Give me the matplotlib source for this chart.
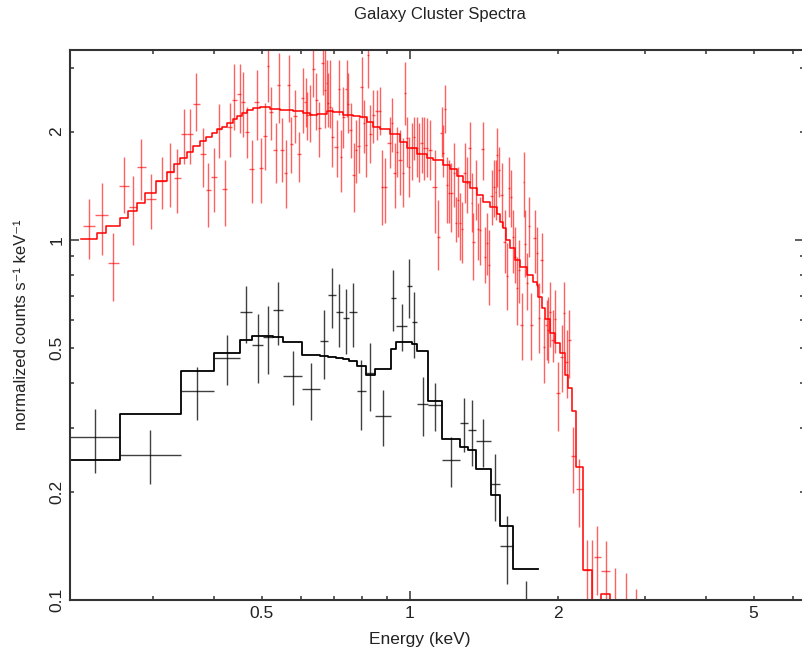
import numpy as np
import matplotlib
matplotlib.use("Agg")
import matplotlib.pyplot as plt
from matplotlib.ticker import FixedLocator, FixedFormatter

plt.rcParams['font.family'] = ['Liberation Sans', 'DejaVu Sans']

# --- black data set (keV bin edges, normalized counts s^-1 keV^-1) ---
black_edges = [0.2036, 0.2574, 0.3420, 0.3996, 0.4513, 0.4768, 0.5033, 0.5275, 0.5527, 0.6041,
               0.6564, 0.6804, 0.7063, 0.7298, 0.7526, 0.7792, 0.8138, 0.8488, 0.9137, 0.9366,
               0.9874, 1.008, 1.035, 1.088, 1.163, 1.264, 1.314, 1.360, 1.459, 1.526,
               1.622, 1.823]
black_rate = [0.283, 0.253, 0.381, 0.471, 0.631, 0.512, 0.539, 0.638, 0.420, 0.386,
              0.525, 0.702, 0.630, 0.606, 0.631, 0.381, 0.426, 0.325, 0.692, 0.577,
              0.745, 0.593, 0.351, 0.347, 0.245, 0.310, 0.297, 0.276, 0.210, 0.141,
              0.070]
black_err = [0.057, 0.043, 0.064, 0.075, 0.115, 0.111, 0.115, 0.126, 0.072, 0.069,
             0.114, 0.134, 0.126, 0.124, 0.127, 0.084, 0.090, 0.057, 0.135, 0.086,
             0.139, 0.123, 0.065, 0.053, 0.039, 0.053, 0.062, 0.042, 0.044, 0.030,
             0.043]
black_model = [0.245, 0.328, 0.433, 0.484, 0.527, 0.541, 0.541, 0.537, 0.522, 0.478,
               0.477, 0.474, 0.469, 0.466, 0.461, 0.447, 0.422, 0.438, 0.497, 0.522,
               0.521, 0.514, 0.493, 0.358, 0.280, 0.266, 0.261, 0.231, 0.196, 0.161,
               0.122]

# --- red data set (bin centres, value, lower / upper end of error bar) ---
red_e = [0.2227, 0.2362, 0.2495, 0.2626, 0.2732, 0.2836, 0.2972, 0.3129, 0.3252, 0.3365,
         0.3477, 0.3577, 0.3679, 0.3791, 0.3890, 0.3996, 0.4096, 0.4207, 0.4306, 0.4389,
         0.4513, 0.4571, 0.4657, 0.4768, 0.4880, 0.4980, 0.5081, 0.5152, 0.5211, 0.5333,
         0.5417, 0.5486, 0.5590, 0.5669, 0.5738, 0.5847, 0.5957, 0.6068, 0.6138, 0.6184,
         0.6262, 0.6360, 0.6440, 0.6542, 0.6646, 0.6717, 0.6771, 0.6823, 0.6878, 0.6953,
         0.7096, 0.7164, 0.7242, 0.7318, 0.7435, 0.7492, 0.7577, 0.7695, 0.7766, 0.7875,
         0.7976, 0.8063, 0.8128, 0.8226, 0.8293, 0.8422, 0.8557, 0.8690, 0.8785, 0.8897,
         0.9107, 0.9180, 0.9322, 0.9396, 0.9543, 0.9691, 0.9769, 0.9874, 0.9967, 1.008,
         1.019, 1.032, 1.044, 1.056, 1.069, 1.081, 1.098, 1.124, 1.142, 1.160,
         1.169, 1.180, 1.191, 1.202, 1.215, 1.228, 1.240, 1.250, 1.264, 1.274,
         1.294, 1.304, 1.324, 1.335, 1.345, 1.362, 1.373, 1.388, 1.405, 1.420,
         1.436, 1.447, 1.466, 1.481, 1.494, 1.505, 1.519, 1.536, 1.560, 1.572,
         1.591, 1.602, 1.622, 1.635, 1.648, 1.668, 1.687, 1.705, 1.713, 1.731,
         1.748, 1.767, 1.795, 1.809, 1.832, 1.852, 1.875, 1.896, 1.910, 1.926,
         1.950, 1.971, 2.002, 2.034, 2.059, 2.083, 2.108, 2.147, 2.208, 2.295,
         2.351, 2.396, 2.499, 2.610, 2.748, 2.884]
red_rate = [1.096, 1.173, 0.863, 1.413, 1.237, 1.592, 1.300, 1.461, 1.548, 1.484,
            1.966, 1.966, 2.387, 1.734, 1.377, 1.499, 2.030, 1.383, 2.060, 2.448,
            2.539, 2.422, 1.999, 1.578, 2.422, 1.585, 1.949, 3.050, 2.272, 1.778,
            2.696, 1.778, 1.532, 2.701, 1.845, 2.214, 1.730, 2.475, 2.413, 2.225,
            2.239, 2.980, 2.448, 2.043, 3.108, 2.610, 2.725, 2.397, 2.346, 1.936,
            1.816, 2.622, 1.697, 2.200, 2.622, 2.382, 2.021, 1.516, 1.778, 1.825,
            2.656, 2.110, 1.836, 3.265, 1.966, 2.225, 2.287, 2.287, 1.406, 1.406,
            1.856, 2.110, 1.532, 1.759, 1.668, 1.532, 2.556, 1.917, 1.598, 1.798,
            1.936, 1.798, 1.741, 1.856, 1.798, 1.798, 1.778, 1.406, 1.021, 1.987,
            1.741, 2.308, 1.422, 1.348, 1.348, 1.532, 1.113, 1.292, 1.113, 1.071,
            1.538, 1.437, 1.798, 1.269, 0.987, 1.392, 1.071, 1.066, 1.793, 0.899,
            0.983, 0.852, 1.325, 1.406, 1.362, 1.722, 1.565, 1.334, 0.989, 0.794,
            1.398, 1.319, 1.017, 0.899, 0.734, 0.825, 0.581, 1.452, 0.975, 0.760,
            1.094, 0.581, 1.011, 0.919, 0.606, 0.880, 0.503, 0.581, 0.562, 0.630,
            0.528, 0.602, 0.377, 0.474, 0.628, 0.459, 0.528, 0.251, 0.203, 0.121,
            0.095, 0.132, 0.120, 0.090, 0.085, 0.070]
red_hi = [1.300, 1.437, 1.048, 1.704, 1.506, 1.904, 1.525, 1.704, 1.856, 1.786,
          2.308, 2.308, 2.910, 2.051, 1.633, 1.798, 2.387, 1.668, 2.402, 3.083,
          3.083, 2.935, 2.346, 1.896, 2.966, 1.917, 2.397, 3.480, 2.666, 2.110,
          3.301, 2.178, 1.896, 3.265, 2.200, 2.610, 1.999, 2.999, 2.814, 2.582,
          2.696, 3.480, 2.904, 2.422, 3.480, 3.480, 3.162, 2.904, 3.162, 2.346,
          2.154, 3.162, 2.021, 2.666, 3.162, 2.904, 2.397, 1.856, 2.154, 2.192,
          3.229, 2.448, 2.200, 3.480, 2.371, 2.610, 2.610, 2.666, 1.778, 1.687,
          2.200, 2.475, 1.856, 2.064, 2.021, 1.917, 3.129, 2.200, 1.936, 2.110,
          2.200, 2.200, 2.110, 2.200, 2.200, 2.178, 2.154, 1.778, 1.292, 2.346,
          2.086, 2.696, 1.701, 1.668, 1.633, 1.856, 1.319, 1.598, 1.348, 1.278,
          1.856, 1.704, 2.131, 1.532, 1.186, 1.668, 1.264, 1.319, 2.131, 1.089,
          1.186, 1.066, 1.565, 1.668, 1.668, 2.043, 1.816, 1.633, 1.212, 0.979,
          1.704, 1.565, 1.212, 1.089, 0.899, 1.000, 0.711, 1.759, 1.212, 0.919,
          1.319, 0.711, 1.212, 1.089, 0.758, 1.044, 0.606, 0.681, 0.696, 0.766,
          0.639, 0.726, 0.459, 0.581, 0.766, 0.562, 0.639, 0.303, 0.247, 0.147,
          0.147, 0.161, 0.146, 0.123, 0.119, 0.107]
red_lo = [0.887, 0.910, 0.678, 1.191, 0.967, 1.292, 1.075, 1.219, 1.237, 1.186,
          1.623, 1.623, 2.008, 1.406, 1.089, 1.198, 1.693, 1.094, 1.701, 2.021,
          1.979, 1.936, 1.687, 1.264, 1.896, 1.269, 1.565, 2.422, 1.896, 1.437,
          2.110, 1.452, 1.225, 2.131, 1.532, 1.856, 1.452, 1.979, 2.064, 1.896,
          1.876, 2.500, 2.021, 1.704, 2.528, 2.043, 2.297, 2.064, 2.043, 1.598,
          1.499, 2.225, 1.362, 1.798, 2.192, 1.979, 1.687, 1.198, 1.437, 1.532,
          2.178, 1.741, 1.499, 2.639, 1.633, 1.856, 1.896, 1.957, 1.101, 1.113,
          1.582, 1.759, 1.225, 1.499, 1.334, 1.237, 2.086, 1.598, 1.319, 1.468,
          1.668, 1.499, 1.452, 1.532, 1.468, 1.499, 1.468, 1.044, 0.825, 1.704,
          1.499, 1.979, 1.113, 1.113, 1.055, 1.237, 0.989, 1.021, 0.880, 0.862,
          1.264, 1.186, 1.437, 1.055, 0.774, 1.137, 0.880, 0.852, 1.468, 0.758,
          0.799, 0.660, 1.101, 1.161, 1.137, 1.406, 1.319, 1.089, 0.808, 0.639,
          1.161, 1.089, 0.808, 0.758, 0.581, 0.667, 0.464, 1.161, 0.791, 0.639,
          0.899, 0.464, 0.808, 0.742, 0.484, 0.711, 0.401, 0.464, 0.455, 0.505,
          0.459, 0.484, 0.295, 0.379, 0.484, 0.363, 0.413, 0.198, 0.159, 0.095,
          0.050, 0.103, 0.094, 0.060, 0.050, 0.030]

# red folded model (step edges in keV, level per step)
red_model_edges = [0.2145, 0.2308, 0.2411, 0.2574, 0.2675, 0.2783, 0.2893, 0.3045, 0.3203, 0.3314,
                   0.3408, 0.3517, 0.3628, 0.3743, 0.3850, 0.3954, 0.4047, 0.4155, 0.4253, 0.4374,
                   0.4444, 0.4549, 0.4657, 0.4790, 0.4956, 0.5193, 0.5442, 0.5791, 0.6068, 0.6262,
                   0.6462, 0.6771, 0.6984, 0.7318, 0.7669, 0.7913, 0.8166, 0.8422, 0.8690, 0.9107,
                   0.9543, 0.9847, 1.032, 1.081, 1.115, 1.169, 1.206, 1.244, 1.283, 1.324,
                   1.366, 1.409, 1.454, 1.500, 1.524, 1.547, 1.567, 1.597, 1.635, 1.673,
                   1.727, 1.781, 1.809, 1.823, 1.852, 1.881, 1.926, 1.971, 2.018, 2.065,
                   2.098, 2.132, 2.175, 2.244, 2.351, 2.445, 2.550, 2.672]
red_model = [1.004, 1.048, 1.094, 1.149, 1.204, 1.264, 1.348, 1.461, 1.548, 1.623,
             1.693, 1.759, 1.828, 1.888, 1.936, 1.979, 2.030, 2.064, 2.110, 2.164,
             2.211, 2.249, 2.297, 2.322, 2.337, 2.312, 2.297, 2.282, 2.249, 2.225,
             2.239, 2.282, 2.272, 2.225, 2.211, 2.192, 2.131, 2.064, 2.030, 1.966,
             1.872, 1.801, 1.734, 1.693, 1.673, 1.616, 1.575, 1.506, 1.452, 1.392,
             1.334, 1.279, 1.235, 1.181, 1.122, 1.080, 1.000, 0.953, 0.880, 0.843,
             0.799, 0.766, 0.750, 0.696, 0.649, 0.603, 0.551, 0.517, 0.484, 0.422,
             0.387, 0.334, 0.234, 0.121, 0.097, 0.104, 0.097]

xticks_major = [1]
xticks_minor = [0.3, 0.4, 0.5, 0.6, 0.7, 0.8, 0.9, 2, 3, 4, 5, 6]
xlabels_minor = ['', '', '0.5', '', '', '', '', '2', '', '', '5', '']
yticks_major = [0.1, 1]
yticks_minor = [0.2, 0.3, 0.4, 0.5, 0.6, 0.7, 0.8, 0.9, 2, 3]
ylabels_minor = ['0.2', '', '', '0.5', '', '', '', '', '2', '']

fig = plt.figure(figsize=(8.02, 6.48), dpi=100)
# the frame runs slightly past the right edge of the picture, as in the original crop
ax = fig.add_axes([70 / 802, 48 / 648, 734 / 802, 550 / 648])

# black spectrum
be = np.array(black_edges)
bc = np.sqrt(be[:-1] * be[1:])
ax.errorbar(bc, black_rate, yerr=black_err, xerr=[bc - be[:-1], be[1:] - bc],
            fmt='none', ecolor='black', elinewidth=1.0, alpha=0.75, capsize=0)
ax.step(be, black_model + black_model[-1:], where='post', color='black', lw=1.3)

# red spectrum
ce = np.array(red_e)
mid = np.sqrt(ce[:-1] * ce[1:])
lo_edge = np.concatenate([[ce[0] ** 2 / mid[0]], mid])
hi_edge = np.concatenate([mid, [ce[-1] ** 2 / mid[-1]]])
rr = np.array(red_rate)
ax.errorbar(ce, rr, yerr=[rr - np.array(red_lo), np.array(red_hi) - rr],
            xerr=[ce - lo_edge, hi_edge - ce],
            fmt='none', ecolor='red', elinewidth=1.0, alpha=0.62, capsize=0)
ax.step(red_model_edges, red_model + red_model[-1:], where='post', color='red', lw=1.1)

ax.set_xscale('log')
ax.set_yscale('log')
ax.set_xlim(0.2036, 6.33)
ax.set_ylim(0.1, 3.371)

ax.xaxis.set_major_locator(FixedLocator(xticks_major))
ax.xaxis.set_major_formatter(FixedFormatter(['1']))
ax.xaxis.set_minor_locator(FixedLocator(xticks_minor))
ax.xaxis.set_minor_formatter(FixedFormatter(xlabels_minor))
ax.yaxis.set_major_locator(FixedLocator(yticks_major))
ax.yaxis.set_major_formatter(FixedFormatter(['0.1', '1']))
ax.yaxis.set_minor_locator(FixedLocator(yticks_minor))
ax.yaxis.set_minor_formatter(FixedFormatter(ylabels_minor))

ax.tick_params(which='both', direction='in', top=True, right=True,
               color='#333333', width=1.1, labelsize=12.5, labelcolor='#222222', pad=4)
ax.tick_params(which='major', length=6.5)
ax.tick_params(which='minor', length=3.2)
ax.tick_params(axis='y', which='both', labelrotation=90)
for lbl in ax.get_yticklabels(which='both'):
    lbl.set_va('center')

for s in ax.spines.values():
    s.set_linewidth(1.5)
    s.set_color('#333333')

fig.text(440 / 802, 1 - 15 / 648, 'Galaxy Cluster Spectra', ha='center', va='center',
         fontsize=12, color='#222222')
fig.text(420 / 802, 4 / 648, 'Energy (keV)', ha='center', va='baseline',
         fontsize=12.5, color='#222222')
fig.text(22 / 802, 1 - 325 / 648, 'normalized counts s\u207b\u00b9 keV\u207b\u00b9',
         rotation=90, ha='center', va='center', fontsize=12, color='#222222')

fig.savefig('out.png', dpi=100)
